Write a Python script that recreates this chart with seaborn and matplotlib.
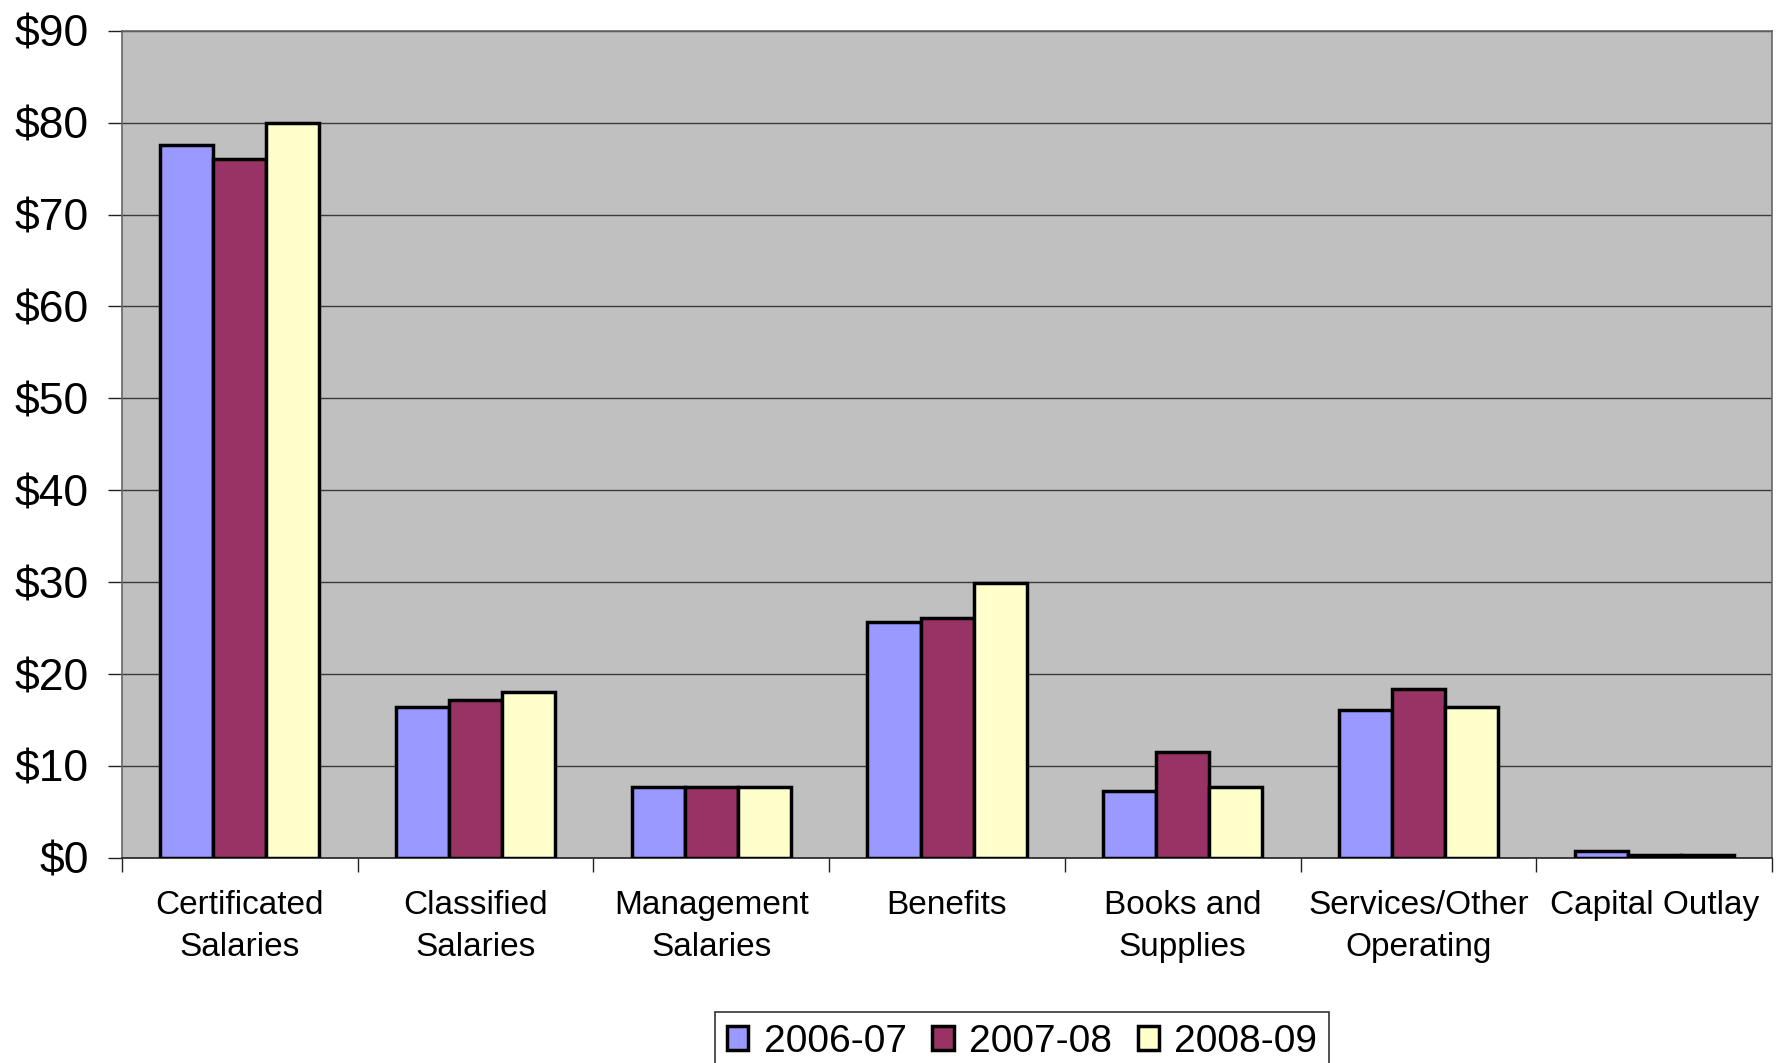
import pandas as pd
import seaborn as sns
import matplotlib.pyplot as plt
import numpy as np

# values (millions of dollars)
categories = ['Certificated\nSalaries', 'Classified\nSalaries', 'Management\nSalaries',
              'Benefits', 'Books and\nSupplies', 'Services/Other\nOperating', 'Capital Outlay']
years = ['2006-07', '2007-08', '2008-09']
v_2006_07 = [77.6, 16.4, 7.7, 25.7, 7.3, 16.1, 0.7]
v_2007_08 = [76.0, 17.2, 7.7, 26.1, 11.5, 18.4, 0.3]
v_2008_09 = [80.0, 18.0, 7.7, 29.9, 7.7, 16.4, 0.3]
y_ticks = [0, 10, 20, 30, 40, 50, 60, 70, 80, 90]

colors = ['#9999FF', '#993366', '#FFFFCC']

df = pd.DataFrame({
    'category': categories * 3,
    'year': np.repeat(years, len(categories)),
    'value': v_2006_07 + v_2007_08 + v_2008_09,
})

sns.set_style('white')
plt.rcParams['font.family'] = ['Liberation Sans', 'DejaVu Sans']
plt.rcParams['text.color'] = 'black'
plt.rcParams['xtick.color'] = 'black'
plt.rcParams['ytick.color'] = 'black'

fig = plt.figure(figsize=(17.81, 10.63), dpi=100)
ax = fig.add_axes([0.0685, 0.193, 0.9265, 0.778])
ax.set_facecolor('#C0C0C0')

sns.barplot(data=df, x='category', y='value', hue='year', order=categories,
            hue_order=years, palette=colors, width=0.675, gap=0,
            edgecolor='black', linewidth=2.5, saturation=1, ax=ax, zorder=3)

ax.set_ylim(0, 90)
ax.set_xlim(-0.5, len(categories) - 0.5)
ax.set_yticks(y_ticks)
ax.set_yticklabels([f'${t}' for t in y_ticks])
ax.yaxis.grid(True, color='#3a3a3a', linewidth=1.0, zorder=0)
ax.set_axisbelow(True)

# ticks on category boundaries, labels centered
ax.set_xticks(np.arange(-0.5, len(categories)))
ax.set_xticklabels([])
ax.set_xticks(np.arange(len(categories)), minor=True)
ax.set_xticklabels(categories, minor=True, fontsize=24, linespacing=1.45)
ax.tick_params(axis='x', which='major', direction='out', length=10, width=1, color='#222222', bottom=True)
ax.tick_params(axis='x', which='minor', length=0, pad=23, bottom=True, labelcolor='black')
ax.tick_params(axis='y', direction='out', length=10, width=1, color='#222222', labelsize=32, pad=14,
               left=True, labelcolor='black')

ax.set_xlabel('')
ax.set_ylabel('')

for side in ['left', 'right', 'top']:
    ax.spines[side].set_color('#666666')
    ax.spines[side].set_linewidth(1.2)
ax.spines['bottom'].set_color('#222222')
ax.spines['bottom'].set_linewidth(1.2)

ax.get_legend().remove()
handles = [plt.Rectangle((0, 0), 1, 1, facecolor=c, edgecolor='black', linewidth=2.5) for c in colors]
leg = fig.legend(handles, years, loc='upper center', bbox_to_anchor=(0.574, 0.048),
                 ncol=3, fontsize=28, frameon=True, fancybox=False, edgecolor='black',
                 handlelength=0.55, handleheight=0.55, handletextpad=0.4, columnspacing=0.65,
                 borderpad=0.3, borderaxespad=0, labelcolor='black')
leg.get_frame().set_linewidth(1.2)

fig.savefig('out.png', dpi=100)
